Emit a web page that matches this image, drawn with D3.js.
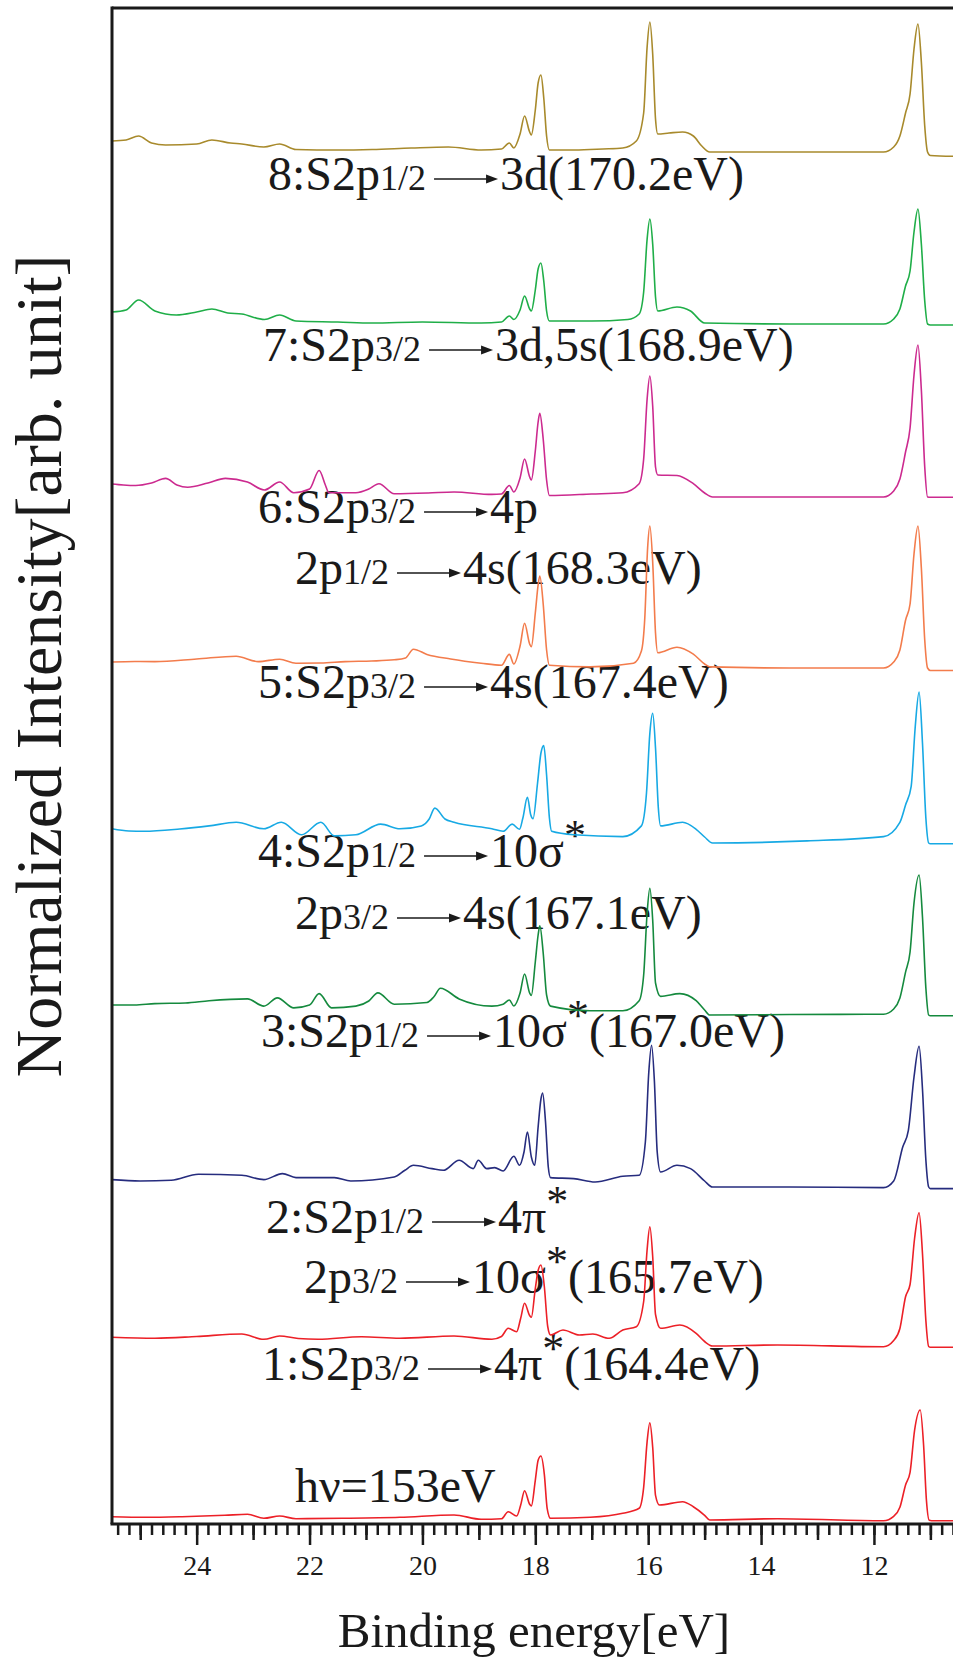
<!DOCTYPE html>
<html>
<head>
<meta charset="utf-8">
<script src="https://cdn.jsdelivr.net/npm/d3@7"></script>
<style>
  body { margin: 0; background: #fff; }
  text { font-family: "Liberation Serif", "DejaVu Serif", serif; fill: #1a1a1a; }
</style>
</head>
<body>
<div id="chart"></div>
<script>
// spectra: [binding energy (eV), intensity above the trace baseline]
var spec8 = [[25.5,11],[25.25,12],[25.03,16],[24.8,9],[24.55,7],[24.0,8],[23.73,12],[23.4,9],[23.2,8],[22.81,5],[22.53,8],[22.24,2.5],[21.5,2],[20.89,2.5],[20.2,4],[19.54,5],[18.96,2],[18.6,3],[18.46,9],[18.38,4],[18.27,18],[18.19,36],[18.1,20],[18.07,17],[18.0,42],[17.95,69],[17.9,77],[17.85,54],[17.8,16],[17.75,2],[17.3,2],[16.8,3],[16.45,4],[16.21,11],[16.08,39],[16.02,104],[15.97,130],[15.92,98],[15.87,33],[15.83,18],[15.63,19],[15.39,20],[15.2,16],[15.05,6],[14.91,0],[13.5,0],[11.83,0],[11.65,5],[11.54,16],[11.44,39],[11.36,58],[11.29,103],[11.22,128],[11.16,90],[11.1,26],[11.05,0],[11.0,-3.5],[10.59,-4.3]];
var spec7 = [[25.5,12],[25.25,14],[25.03,24],[24.74,13],[24.36,9],[24.0,12],[23.73,15],[23.45,11],[23.2,10],[22.8,4.5],[22.53,9],[22.24,3],[21.5,2],[20.89,1],[20.0,2],[18.96,1],[18.6,2],[18.46,8],[18.38,4.5],[18.27,14],[18.19,28],[18.1,15],[18.07,13],[18.0,34],[17.95,55],[17.9,61],[17.85,43],[17.8,13],[17.75,3],[17.0,3],[16.36,4.5],[16.16,10],[16.08,32],[16.02,84],[15.97,105],[15.92,80],[15.87,27],[15.83,13],[15.49,17],[15.25,13],[15.0,1],[13.5,0],[11.83,0],[11.65,5],[11.54,15],[11.44,38],[11.36,53],[11.29,92],[11.22,115],[11.16,80],[11.1,23],[11.05,0],[11.0,-1],[10.59,-1]];
var spec6 = [[25.5,13],[25.3,12],[25.08,11.5],[24.8,14],[24.55,18.6],[24.35,12],[24.16,9.7],[23.8,14],[23.49,18.6],[23.1,15],[22.8,7],[22.53,15],[22.28,4.3],[22.0,8],[21.83,26.5],[21.72,12],[21.66,4.3],[21.18,4.3],[20.95,8],[20.77,13.3],[20.5,3.3],[19.9,4],[19.44,5],[18.77,2.6],[18.6,3],[18.46,11.5],[18.38,5],[18.27,19],[18.19,38],[18.1,20],[18.07,17],[18.0,46],[17.95,75],[17.92,83.6],[17.86,58],[17.8,17],[17.75,1.5],[17.0,3],[16.45,4.3],[16.16,13.3],[16.08,38],[16.02,97],[15.97,121],[15.92,91],[15.87,30],[15.83,22],[15.49,21.5],[15.2,13.3],[15.0,4],[14.86,0],[13.5,0],[11.83,0],[11.65,6],[11.54,18],[11.44,45],[11.36,69],[11.29,122],[11.22,152],[11.16,107],[11.1,30],[11.05,0],[11.0,-0.3],[10.59,-0.3]];
var spec5 = [[25.5,6],[25.1,6.5],[24.74,6.4],[24.0,9],[23.3,11.8],[22.91,6.4],[22.53,8.8],[22.24,4.8],[21.8,5],[21.37,6.4],[20.9,7],[20.5,8.2],[20.3,10],[20.16,18.8],[19.92,13.6],[19.5,9],[18.96,4.8],[18.6,2.8],[18.46,13.6],[18.38,4],[18.27,22],[18.19,44.8],[18.1,24],[18.07,21.4],[18.0,55],[17.95,83],[17.92,92],[17.86,64],[17.8,18],[17.75,2.8],[17.03,1.1],[16.26,4.8],[16.12,17],[16.06,50],[16.01,120],[15.97,142],[15.92,106],[15.87,35],[15.83,15.3],[15.49,20.8],[15.2,13.8],[15.0,4],[14.91,1.1],[13.5,0],[11.83,0],[11.65,6],[11.54,18],[11.44,47.8],[11.36,64],[11.29,114],[11.22,142],[11.16,100],[11.1,28],[11.05,0],[11.0,-2.5],[10.59,-2.5]];
var spec4 = [[25.5,14.2],[25.2,12],[24.93,11.7],[24.3,14],[23.78,17.1],[23.3,20.7],[22.81,14.2],[22.5,20.7],[22.14,8.2],[21.8,20.7],[21.56,7.1],[21.18,8.2],[20.74,18.9],[20.4,14.2],[20.02,17.1],[19.88,24],[19.78,34.9],[19.6,24],[19.44,20.7],[18.77,14.2],[18.57,11.7],[18.41,18.9],[18.28,13.7],[18.22,25],[18.14,45.7],[18.08,28],[18.04,24.2],[17.96,60],[17.9,90],[17.85,97.4],[17.8,68],[17.75,25],[17.71,11.7],[17.32,8.2],[16.45,6.4],[16.12,17.1],[16.03,50],[15.97,110],[15.92,129.7],[15.87,95],[15.82,35],[15.78,17.1],[15.39,20.7],[15.15,13.7],[15.0,6],[14.86,0],[13.18,2.1],[11.83,6.4],[11.54,20.7],[11.44,38],[11.34,56.7],[11.27,115],[11.2,151],[11.14,100],[11.08,25],[11.03,0],[11.0,-0.8],[10.59,-0.8]];
var spec3 = [[25.5,10],[25.1,10],[24.74,11.4],[24.2,12],[23.78,14.3],[23.1,16.1],[22.81,8.9],[22.57,17.1],[22.28,7.1],[22.0,10],[21.83,21.4],[21.61,7.1],[21.18,8.9],[20.95,14],[20.79,22.1],[20.5,10.8],[19.92,12.5],[19.8,18],[19.68,26.8],[19.35,16.1],[18.77,8.9],[18.57,10.8],[18.46,15],[18.38,9],[18.27,22],[18.19,41],[18.1,22],[18.07,19.6],[18.0,53],[17.95,80],[17.92,89.2],[17.86,62],[17.8,20],[17.73,8.9],[17.03,4.3],[16.45,4.3],[16.16,14.3],[16.08,40],[16.02,101],[15.97,126.8],[15.92,95],[15.87,32],[15.78,18.6],[15.44,21.4],[15.15,14.3],[15.0,5],[14.91,0],[13.5,0.5],[11.83,0.8],[11.65,6],[11.54,17],[11.44,42.8],[11.36,63],[11.29,112],[11.2,140],[11.14,98],[11.08,27],[11.03,0],[11.0,-0.7],[10.59,-0.7]];
var spec2 = [[25.5,7.4],[25.0,6],[24.45,6.7],[23.97,12.7],[23.2,11.7],[22.81,7.4],[22.48,13.4],[22.24,9.4],[21.56,9.4],[21.27,6],[20.5,10],[20.31,16.7],[20.16,21.7],[19.83,18.4],[19.63,16.7],[19.35,26.7],[19.1,18.4],[19.01,26.7],[18.86,18.4],[18.72,19.4],[18.57,16],[18.38,30.7],[18.28,21.7],[18.2,35],[18.14,55],[18.07,30],[18.01,21.7],[17.95,60],[17.9,88],[17.87,94],[17.82,66],[17.77,20],[17.73,9.4],[17.32,8.4],[16.94,5],[16.45,10.7],[16.16,11.7],[16.05,45],[15.99,114],[15.94,141.7],[15.89,106],[15.84,35],[15.78,15],[15.49,21.7],[15.25,18.4],[15.0,6],[14.86,0],[13.5,0],[11.83,-0.6],[11.65,6],[11.49,40],[11.39,56.7],[11.29,110],[11.2,140.7],[11.14,98],[11.08,27],[11.03,0],[11.0,-1.6],[10.59,-1.6]];
var spec1 = [[25.5,9.2],[24.74,8.2],[24.0,10],[23.2,12.5],[22.81,7.2],[22.53,10.5],[22.2,8],[21.85,7.2],[21.08,9.8],[20.4,8.2],[19.44,10.5],[18.77,7.2],[18.6,10],[18.48,18.2],[18.33,14.8],[18.26,28],[18.19,43.2],[18.1,31],[18.07,29.2],[18.0,58],[17.95,76],[17.9,81.5],[17.84,60],[17.78,20],[17.73,11.5],[17.51,16.5],[17.22,11.5],[16.98,12.5],[16.69,8.2],[16.45,16.5],[16.21,19.8],[16.08,45],[16.02,96],[15.97,119.8],[15.92,90],[15.87,32],[15.78,18.2],[15.44,21.5],[15.15,13.2],[15.0,5],[14.86,0.5],[13.71,1.5],[11.83,-0.2],[11.65,6],[11.54,18],[11.44,49.8],[11.36,62],[11.28,108],[11.2,133.8],[11.14,93],[11.08,26],[11.03,0],[11.0,-0.8],[10.59,-0.8]];
var spec0 = [[25.5,3.6],[24.9,3],[24.26,3.6],[23.5,5],[23.1,6],[22.81,2],[22.53,4.3],[22.24,1.6],[21.4,2],[20.4,3],[19.44,5.3],[18.96,1],[18.6,1.5],[18.48,8.6],[18.33,4.3],[18.26,15],[18.19,29.6],[18.1,16],[18.07,14.3],[18.0,40],[17.95,60],[17.9,64.3],[17.84,46],[17.79,12],[17.73,2],[17.03,3],[16.45,7],[16.16,12],[16.08,33],[16.02,78],[15.97,97.6],[15.92,73],[15.87,25],[15.8,15.3],[15.39,18.6],[15.2,13.6],[15.0,5],[14.91,0.3],[13.71,1.6],[11.83,-0.4],[11.65,4],[11.54,13],[11.44,35.3],[11.36,48],[11.28,90],[11.18,110.3],[11.12,75],[11.07,20],[11.02,0],[10.98,-0.4],[10.59,-0.4]];

var spectra = [spec0, spec1, spec2, spec3, spec4, spec5, spec6, spec7, spec8];
// vertical stacking offset of every trace (arb. unit)
var offsets = [3.7, 177.5, 337, 509, 681, 856, 1027, 1200, 1372];
var colors = ["#ec2027", "#ec2027", "#262c7e", "#158a3e", "#17a9e4", "#f37c4c", "#cc2a8f", "#1fae48", "#a88a2c"];

var majorTicks = [24, 22, 20, 18, 16, 14, 12];

// annotation rows: t = text, s = small text, a = arrow, sup = superscript
var labels = [
    {x: 268, y: 190, parts: [["t", "8:S2p"], ["s", "1/2"], ["a"], ["t", "3d(170.2eV)"]]},
    {x: 263, y: 361, parts: [["t", "7:S2p"], ["s", "3/2"], ["a"], ["t", "3d,5s(168.9eV)"]]},
    {x: 258, y: 523, parts: [["t", "6:S2p"], ["s", "3/2"], ["a"], ["t", "4p"]]},
    {x: 295, y: 584, parts: [["t", "2p"], ["s", "1/2"], ["a"], ["t", "4s(168.3eV)"]]},
    {x: 258, y: 698, parts: [["t", "5:S2p"], ["s", "3/2"], ["a"], ["t", "4s(167.4eV)"]]},
    {x: 258, y: 867, parts: [["t", "4:S2p"], ["s", "1/2"], ["a"], ["t", "10σ"], ["sup", "*"]]},
    {x: 295, y: 929, parts: [["t", "2p"], ["s", "3/2"], ["a"], ["t", "4s(167.1eV)"]]},
    {x: 261, y: 1047, parts: [["t", "3:S2p"], ["s", "1/2"], ["a"], ["t", "10σ"], ["sup", "*"], ["t", "(167.0eV)"]]},
    {x: 266, y: 1233, parts: [["t", "2:S2p"], ["s", "1/2"], ["a"], ["t", "4π"], ["sup", "*"]]},
    {x: 304, y: 1293, parts: [["t", "2p"], ["s", "3/2"], ["a"], ["t", "10σ"], ["sup", "*"], ["t", "(165.7eV)"]]},
    {x: 262, y: 1380, parts: [["t", "1:S2p"], ["s", "3/2"], ["a"], ["t", "4π"], ["sup", "*"], ["t", "(164.4eV)"]]},
    {x: 295, y: 1502, parts: [["t", "hν=153eV"]]}
];

var width = 953;
var height = 1658;
var plotLeft = 112;
var plotTop = 8;
var plotBottom = 1524;

var svg = d3.select("#chart")
    .append("svg")
    .attr("width", width)
    .attr("height", height);

svg.append("rect")
    .attr("width", width)
    .attr("height", height)
    .style("fill", "#fff");

var x = d3.scaleLinear().domain([25.5, 10.5]).range([plotLeft, plotLeft + 15 * 56.44]);
var y = d3.scaleLinear().domain([0, plotBottom - plotTop]).range([plotBottom, plotTop]);

// labels go under the traces
var lab = svg.append("g");
labels.forEach(function (row) {
    var cx = row.x;
    row.parts.forEach(function (p) {
        if (p[0] === "a") {
            cx += 8;
            var ay = row.y - 11;
            var len = 64;
            lab.append("line")
                .attr("x1", cx).attr("x2", cx + len - 8)
                .attr("y1", ay).attr("y2", ay)
                .style("stroke", "#1a1a1a")
                .style("stroke-width", 1.6);
            lab.append("path")
                .attr("d", "M" + (cx + len) + "," + ay + "L" + (cx + len - 12) + "," + (ay - 4.5) +
                    "L" + (cx + len - 12) + "," + (ay + 4.5) + "Z")
                .style("fill", "#1a1a1a");
            cx += len + 2;
        } else {
            var size = p[0] === "t" ? 48 : (p[0] === "s" ? 36 : 44);
            var dy = p[0] === "sup" ? -17 : 0;
            var t = lab.append("text")
                .attr("x", cx)
                .attr("y", row.y + dy)
                .style("font-size", size + "px")
                .text(p[1]);
            cx += t.node().getComputedTextLength();
        }
    });
});

// traces
var line = d3.line()
    .x(function (d) { return x(d[0]); })
    .y(function (d) { return y(d[1]); })
    .curve(d3.curveMonotoneX);

spectra.forEach(function (s, i) {
    svg.append("path")
        .datum(s.map(function (d) { return [d[0], d[1] + offsets[i]]; }))
        .attr("d", line)
        .style("fill", "none")
        .style("stroke", colors[i])
        .style("stroke-width", 1.6)
        .style("stroke-linejoin", "round");
});

// frame
svg.append("line")
    .attr("x1", plotLeft).attr("x2", width)
    .attr("y1", plotTop).attr("y2", plotTop)
    .style("stroke", "#1a1a1a").style("stroke-width", 3);
svg.append("line")
    .attr("x1", plotLeft).attr("x2", plotLeft)
    .attr("y1", plotTop - 1.5).attr("y2", plotBottom)
    .style("stroke", "#1a1a1a").style("stroke-width", 3);

// x axis: minor (0.2 eV), odd integer, even labelled ticks
var minor = d3.range(53, 128).map(function (i) { return i / 5; });
var odd = [25, 23, 21, 19, 17, 15, 13, 11];

function tickAxis(values, size, cls) {
    var g = svg.append("g")
        .attr("class", cls)
        .attr("transform", "translate(0," + plotBottom + ")")
        .call(d3.axisBottom(x).tickValues(values).tickSize(size).tickFormat(""));
    g.select(".domain").remove();
    g.selectAll(".tick line").style("stroke", "#1a1a1a").style("stroke-width", 2.5);
    return g;
}
tickAxis(minor, 11, "minor");
tickAxis(odd, 16, "odd");
var major = tickAxis(majorTicks, 21, "major");
major.selectAll(".tick text")
    .text(function (d) { return d; })
    .attr("y", 51)
    .attr("dy", 0)
    .style("font-family", "Liberation Serif")
    .style("font-size", "28px")
    .style("fill", "#1a1a1a");

svg.append("line")
    .attr("x1", plotLeft - 1.5).attr("x2", width)
    .attr("y1", plotBottom).attr("y2", plotBottom)
    .style("stroke", "#1a1a1a").style("stroke-width", 3);

// axis titles
svg.append("text")
    .attr("x", 534)
    .attr("y", 1647)
    .attr("text-anchor", "middle")
    .style("font-size", "49px")
    .text("Binding energy[eV]");

svg.append("text")
    .attr("transform", "translate(61,666) rotate(-90)")
    .attr("text-anchor", "middle")
    .style("font-size", "66px")
    .text("Normalized Intensity[arb. unit]");
</script>
</body>
</html>
